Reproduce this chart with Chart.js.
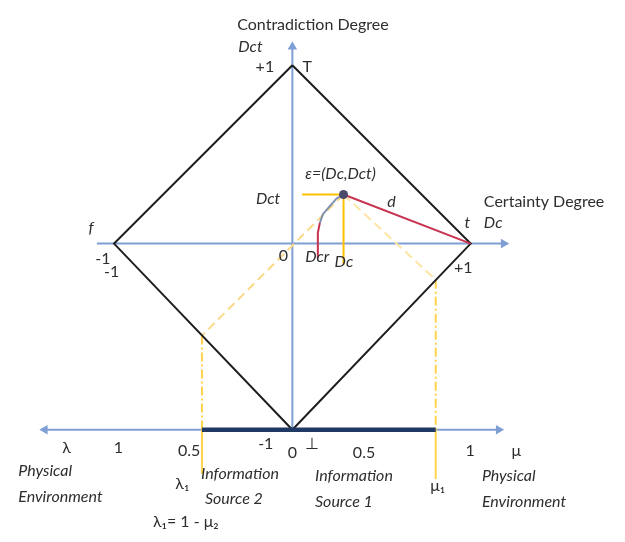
<!DOCTYPE html>
<html><head><meta charset="utf-8">
<script src="https://cdn.jsdelivr.net/npm/chart.js@4/dist/chart.umd.min.js"></script>
<style>html,body{margin:0;padding:0;background:#fff;}#wrap{width:625px;height:542px;}</style>
</head><body><div id="wrap"><canvas id="c" width="625" height="542"></canvas></div>
<script>
// ---- diagram values (in Dc / Dct units) ----
const diamondPts = [{x:0,y:1},{x:1,y:0},{x:0,y:-1.044},{x:-1,y:0},{x:0,y:1}];
const dcAxis = [{x:-1.096,y:0},{x:1.185,y:0}];
const dctAxis = [{x:0,y:-1.044},{x:0,y:1.104}];
const muLambdaAxisL = [{x:0,y:-1.044},{x:-1.388,y:-1.044}];
const muLambdaAxisR = [{x:0,y:-1.044},{x:1.157,y:-1.044}];
const infoBand = [{x:-0.507,y:-1.044},{x:0.804,y:-1.044}];
const epsilon = {x:0.287,y:0.275};
const distanceD = [epsilon,{x:1,y:0}];
const dctProj = [{x:0.055,y:0.275},epsilon];
const dcProj = [epsilon,{x:0.287,y:-0.12}];
const dcrRed = [{x:0.143,y:-0.082},{x:0.143,y:0.060},{x:0.154,y:0.115}];
const dcrArc = [{x:0.154,y:0.115},{x:0.171,y:0.165},{x:0.209,y:0.209},{x:0.248,y:0.253},epsilon];
const toLambda = [epsilon,{x:-0.507,y:-0.516}];
const toMu = [epsilon,{x:0.804,y:-0.203}];
const lambdaDrop = [{x:-0.507,y:-0.516},{x:-0.507,y:-1.044}];
const muDrop = [{x:0.804,y:-0.203},{x:0.804,y:-1.044}];
const lambdaTick = [{x:-0.507,y:-1.044},{x:-0.507,y:-1.291}];
const muTick = [{x:0.804,y:-1.044},{x:0.804,y:-1.32}];

const annotations = [
  {t:'Contradiction Degree',x:-0.309,y:1.225,a:'left'},
  {t:'Dct',x:-0.303,y:1.104,a:'left',i:true},
  {t:'+1',x:-0.154,y:0.989},
  {t:'T',x:0.083,y:0.989},
  {t:'ε=(Dc,Dct)',x:0.072,y:0.39,a:'left',i:true},
  {t:'Dct',x:-0.204,y:0.253,a:'left',i:true},
  {t:'d',x:0.556,y:0.236,i:true},
  {t:'Certainty Degree',x:1.074,y:0.236,a:'left'},
  {t:'t',x:0.981,y:0.115,i:true},
  {t:'Dc',x:1.074,y:0.115,a:'left',i:true},
  {t:'f',x:-1.129,y:0.088,i:true},
  {t:'-1',x:-1.063,y:-0.088},
  {t:'-1',x:-1.014,y:-0.159},
  {t:'0',x:-0.05,y:-0.071},
  {t:'Dcr',x:0.072,y:-0.077,a:'left',i:true},
  {t:'Dc',x:0.237,y:-0.104,a:'left',i:true},
  {t:'+1',x:0.959,y:-0.137},
  {t:'λ',x:-1.267,y:-1.148},
  {t:'1',x:-0.975,y:-1.148},
  {t:'0.5',x:-0.579,y:-1.165},
  {t:'-1',x:-0.149,y:-1.121},
  {t:'0',x:0,y:-1.176},
  {t:'⊥',x:0.11,y:-1.121},
  {t:'0.5',x:0.402,y:-1.176},
  {t:'1',x:0.997,y:-1.165},
  {t:'μ',x:1.256,y:-1.165},
  {t:'Physical',x:-1.537,y:-1.275,a:'left',i:true},
  {t:'Environment',x:-1.537,y:-1.423,a:'left',i:true},
  {t:'λ₁',x:-0.617,y:-1.346},
  {t:'Information',x:-0.512,y:-1.291,a:'left',i:true},
  {t:'Source 2',x:-0.49,y:-1.429,a:'left',i:true},
  {t:'Information',x:0.127,y:-1.302,a:'left',i:true},
  {t:'Source 1',x:0.127,y:-1.451,a:'left',i:true},
  {t:'μ₁',x:0.815,y:-1.357},
  {t:'Physical',x:1.063,y:-1.302,a:'left',i:true},
  {t:'Environment',x:1.063,y:-1.451,a:'left',i:true},
  {t:'λ₁= 1 - μ₂',x:-0.782,y:-1.56,a:'left'}
];

const FONT = 'Lato, "Open Sans", sans-serif';
const AXIS_BLUE = '#7f9fd4';

function line(data, color, width, extra) {
  return Object.assign({type:'scatter', data, showLine:true, borderColor:color, backgroundColor:color,
    borderWidth:width, pointRadius:0, pointHoverRadius:0, fill:false, tension:0, clip:false}, extra||{});
}
function arrowEnd(rot) {
  return {
    pointStyle:'triangle',
    pointRadius: c => c.dataIndex === c.dataset.data.length - 1 ? 3.5 : 0,
    rotation: rot
  };
}

const annotPlugin = {
  id:'annot',
  afterDatasetsDraw(chart) {
    const {ctx, scales:{x, y}} = chart;
    ctx.save();
    ctx.fillStyle = '#2e2e2e';
    ctx.textBaseline = 'middle';
    for (const a of annotations) {
      ctx.font = (a.i ? 'italic ' : '') + '16px ' + FONT;
      ctx.textAlign = a.a || 'center';
      ctx.fillText(a.t, x.getPixelForValue(a.x), y.getPixelForValue(a.y));
    }
    ctx.restore();
  }
};

new Chart(document.getElementById('c'), {
  type:'scatter',
  data:{datasets:[
    line([epsilon], '#4b4a6a', 0, {pointRadius:4.5, pointStyle:'circle', order:0}),
    line(distanceD, '#c8334f', 2, {order:1}),
    line(dcrRed, '#c8334f', 2, {order:1}),
    line(dcrArc, '#7f8fb0', 2, {order:1}),
    line(dctProj, '#ffc000', 2, {order:2}),
    line(dcProj, '#ffc000', 2, {order:2}),
    line(infoBand, '#1f3864', 4.5, {order:3}),
    line(diamondPts, '#1e1e1e', 2, {order:4}),
    line(toLambda, '#fbd98a', 2, {borderDash:[9,5], order:5}),
    line(toMu, '#fde6a3', 2, {borderDash:[9,5], order:5}),
    line(lambdaDrop, '#ffd34d', 2, {borderDash:[9,3,2,3], order:5}),
    line(muDrop, '#ffd34d', 2, {borderDash:[9,3,2,3], order:5}),
    line(lambdaTick, '#ffd34d', 2, {order:5}),
    line(muTick, '#ffd34d', 2, {order:5}),
    line(dcAxis, AXIS_BLUE, 2, Object.assign(arrowEnd(90), {order:6})),
    line(dctAxis, AXIS_BLUE, 2, Object.assign(arrowEnd(0), {order:6})),
    line(muLambdaAxisL, AXIS_BLUE, 2, Object.assign(arrowEnd(-90), {order:6})),
    line(muLambdaAxisR, AXIS_BLUE, 2, Object.assign(arrowEnd(90), {order:6}))
  ]},
  options:{
    responsive:false, animation:false, devicePixelRatio:1,
    layout:{padding:0},
    plugins:{legend:{display:false}, tooltip:{enabled:false}},
    events:[],
    scales:{
      x:{type:'linear', min:-1.6088, max:1.8347, display:false},
      y:{type:'linear', min:-1.6429, max:1.3352, display:false}
    }
  },
  plugins:[annotPlugin]
});
</script>
</body></html>
